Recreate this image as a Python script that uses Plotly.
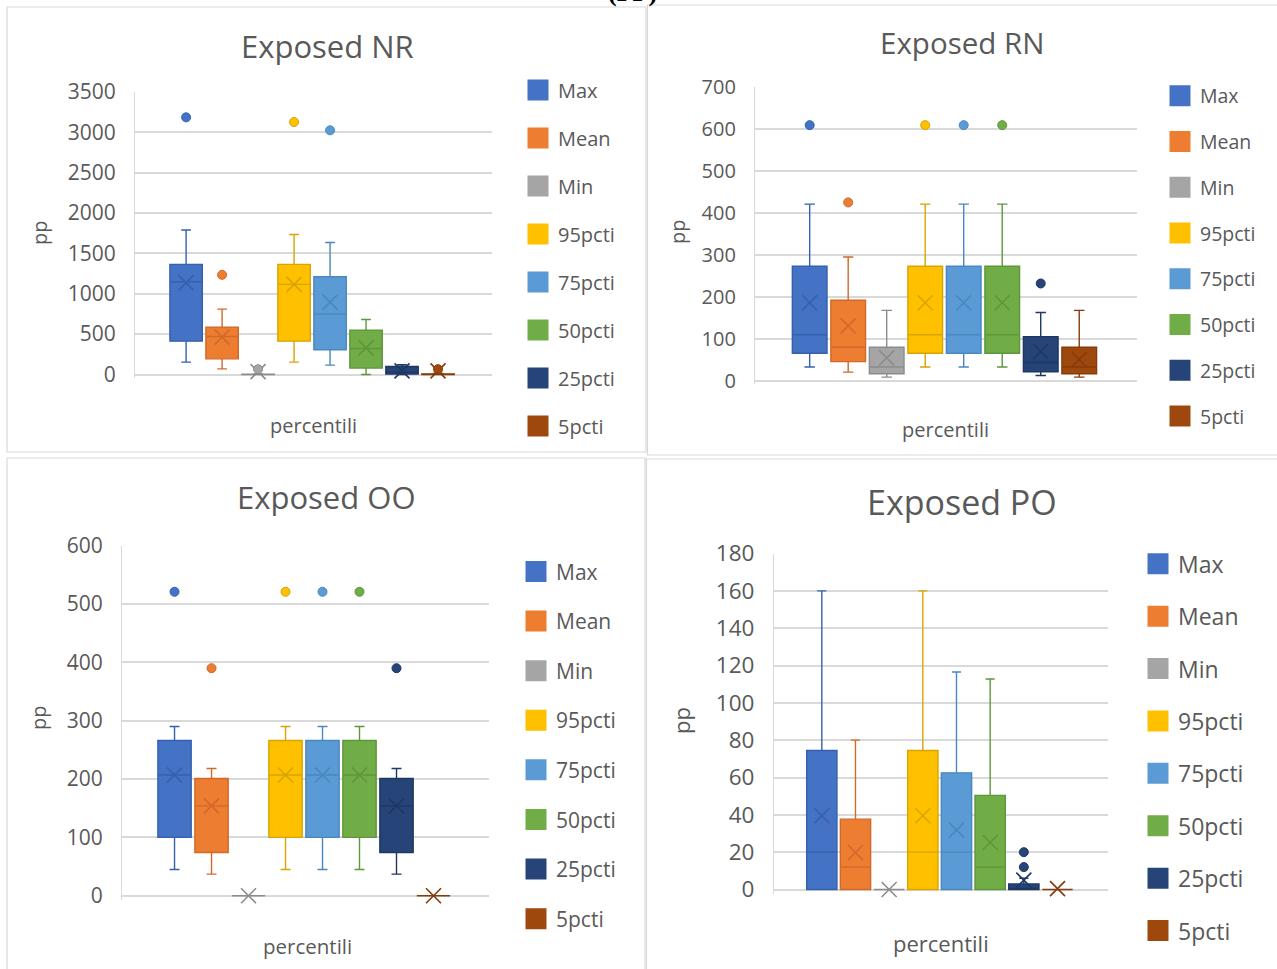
import plotly.graph_objects as go

W, H = 1277, 969

# ---------------- data ----------------
SERIES = ["Max", "Mean", "Min", "95pcti", "75pcti", "50pcti", "25pcti", "5pcti"]
PANEL_TITLES = ["Exposed NR", "Exposed RN", "Exposed OO", "Exposed PO"]
X_TITLE = "percentili"
Y_TITLE = "pp"

# Exposed NR
NR_LO = [153, 70, 0, 153, 116, 0, 0, 0]
NR_Q1 = [413, 194, 0, 413, 306, 79, 5, 0]
NR_MED = [1149, 471, 0, 1116, 748, 322, 30, 0]
NR_Q3 = [1364, 587, 5, 1364, 1211, 550, 100, 8]
NR_HI = [1790, 810, 10, 1735, 1636, 682, 120, 15]
NR_MEAN = [1136, 463, 35, 1116, 897, 330, 45, 45]
NR_OUT = [[3186], [1235], [66], [3128], [3025], [], [], [66]]

# Exposed RN
RN_LO = [32, 20, 8, 32, 32, 32, 12, 8]
RN_Q1 = [65, 45, 16, 65, 65, 65, 21, 16]
RN_MED = [109, 79, 32, 109, 109, 109, 43, 32]
RN_Q3 = [272, 191, 79, 272, 272, 272, 104, 79]
RN_HI = [420, 294, 167, 420, 420, 420, 162, 167]
RN_MEAN = [185, 130, 54, 185, 185, 185, 69, 50]
RN_OUT = [[608], [424], [], [608], [608], [608], [231], []]

# Exposed OO
OO_LO = [45, 37, 0, 45, 45, 45, 37, 0]
OO_Q1 = [100, 74, 0, 100, 100, 100, 74, 0]
OO_MED = [207, 154, 0, 207, 207, 207, 154, 0]
OO_Q3 = [266, 201, 0, 266, 266, 266, 201, 0]
OO_HI = [290, 218, 0, 290, 290, 290, 218, 0]
OO_MEAN = [207, 154, 0, 207, 207, 207, 154, 0]
OO_OUT = [[521], [390], [], [521], [521], [521], [390], []]

# Exposed PO
PO_LO = [0, 0, 0, 0, 0, 0, 0, 0]
PO_Q1 = [0, 0, 0, 0, 0, 0, 0, 0]
PO_MED = [20, 12, 0, 20, 20, 12, 0, 0]
PO_Q3 = [74.5, 37.7, 0, 74.5, 62.5, 50.4, 3, 0]
PO_HI = [160, 80, 0, 160, 116.5, 112.8, 6, 0]
PO_MEAN = [39.5, 19.8, 0, 39.5, 31.8, 25.2, 5, 0.5]
PO_OUT = [[], [], [], [], [], [], [12, 20], []]

Y_TOP = [3500, 700, 600, 180]
Y_DTICK = [500, 100, 100, 20]

# ---------------- styles ----------------
FILL = ["#4472C4", "#ED7D31", "#A5A5A5", "#FFC000", "#5B9BD5", "#70AD47", "#264478", "#9E480E"]
EDGE = ["#3560AE", "#D0692A", "#8C8C8C", "#D9A300", "#4A87C0", "#5E963A", "#1E3763", "#853B0B"]
TXT = "#595959"
GRID = "#D9D9D9"
FONT = "Open Sans"

data_sets = [
    (NR_LO, NR_Q1, NR_MED, NR_Q3, NR_HI, NR_MEAN, NR_OUT),
    (RN_LO, RN_Q1, RN_MED, RN_Q3, RN_HI, RN_MEAN, RN_OUT),
    (OO_LO, OO_Q1, OO_MED, OO_Q3, OO_HI, OO_MEAN, OO_OUT),
    (PO_LO, PO_Q1, PO_MED, PO_Q3, PO_HI, PO_MEAN, PO_OUT),
]

# panel geometry in pixels
GEOM = [
    dict(left=135, right=492, y0=374.5, ytop=92, title=(327, 46, 31), ytitle=(40, 233, 20),
         xtitle=(313, 425, 20), tick=21, leg=(528, 70.6, 20, 19),
         border=(7, 7, 646, 452)),
    dict(left=755, right=1137, y0=380.5, ytop=86.5, title=(962, 42, 29.5), ytitle=(677, 232, 20),
         xtitle=(945, 430, 20), tick=20, leg=(1170, 76.5, 19.5, 17.4),
         border=(647.5, 5, 1290, 455)),
    dict(left=122, right=489, y0=895.7, ytop=545.7, title=(326, 497, 31), ytitle=(38, 718, 20),
         xtitle=(307, 946, 20.5), tick=21, leg=(526, 551.3, 21, 19.3),
         border=(7, 458, 645, 985)),
    dict(left=774, right=1108, y0=889.5, ytop=553.5, title=(962, 502, 34), ytitle=(681, 720, 22),
         xtitle=(941, 943, 22), tick=22.5, leg=(1148, 542.3, 23, 19.5),
         border=(646.5, 459, 1290, 985)),
]

fig = go.Figure()
annotations = []
shapes = []
layout_upd = {}

for p in range(4):
    lo, q1, med, q3, hi, mean, outs = data_sets[p]
    g = GEOM[p]
    sfx = "" if p == 0 else str(p + 1)
    xa, ya = "x" + sfx, "y" + sfx
    legname = "legend" if p == 0 else "legend" + str(p + 1)

    for i, name in enumerate(SERIES):
        fig.add_trace(go.Box(
            x=[i], q1=[q1[i]], median=[med[i]], q3=[q3[i]],
            lowerfence=[lo[i]], upperfence=[hi[i]],
            width=0.9, whiskerwidth=0.3, boxpoints=False,
            fillcolor=FILL[i], line=dict(color=EDGE[i], width=1.4),
            xaxis=xa, yaxis=ya, showlegend=False, hoverinfo="skip", name=name))
        fig.add_trace(go.Scatter(
            x=[i], y=[mean[i]], mode="markers",
            marker=dict(symbol="x-thin", size=15, color=EDGE[i],
                        line=dict(color=EDGE[i], width=1.6)),
            xaxis=xa, yaxis=ya, showlegend=False, hoverinfo="skip", cliponaxis=False))
        if outs[i]:
            fig.add_trace(go.Scatter(
                x=[i] * len(outs[i]), y=outs[i], mode="markers",
                marker=dict(symbol="circle", size=9, color=FILL[i],
                            line=dict(color=EDGE[i], width=1)),
                xaxis=xa, yaxis=ya, showlegend=False, hoverinfo="skip"))
    # legend entries
    for i, name in enumerate(SERIES):
        fig.add_trace(go.Scatter(
            x=[None], y=[None], mode="markers", name=name,
            marker=dict(symbol="square", size=16, color=FILL[i],
                        line=dict(color=FILL[i], width=5)),
            xaxis=xa, yaxis=ya, legend=legname, legendgroup=f"g{p}_{i}",
            showlegend=True, hoverinfo="skip"))

    top = Y_TOP[p]
    pad_frac = 0.012
    pad_px = pad_frac * (g["y0"] - g["ytop"])
    layout_upd["xaxis" + sfx] = dict(
        domain=[g["left"] / W, g["right"] / W], range=[-1.42, 8.5],
        showticklabels=False, showgrid=False, zeroline=False, showline=False,
        ticks="", anchor=ya, fixedrange=True)
    layout_upd["yaxis" + sfx] = dict(
        domain=[1 - (g["y0"] + pad_px) / H, 1 - g["ytop"] / H],
        range=[-pad_frac * top, top], tick0=0, dtick=Y_DTICK[p],
        showgrid=True, gridcolor=GRID, gridwidth=1.5,
        zeroline=True, zerolinecolor=GRID, zerolinewidth=1.5,
        showline=True, linecolor=GRID, linewidth=1.2,
        ticks="", ticklabelstandoff=14,
        tickfont=dict(family=FONT, size=g["tick"], color=TXT),
        anchor=xa, fixedrange=True)
    lx, ly, lfs, lgap = g["leg"]
    layout_upd[legname] = dict(
        x=(lx - 10) / W, y=1 - ly / H, xanchor="left", yanchor="top",
        font=dict(family=FONT, size=lfs, color=TXT),
        tracegroupgap=lgap, traceorder="grouped",
        bgcolor="rgba(0,0,0,0)", borderwidth=0,
        itemclick=False, itemdoubleclick=False)

    tx, ty, tfs = g["title"]
    annotations.append(dict(text=PANEL_TITLES[p], x=tx / W, y=1 - ty / H, xref="paper", yref="paper",
                            showarrow=False, xanchor="center", yanchor="middle",
                            font=dict(family=FONT, size=tfs, color=TXT)))
    yx, yy, yfs = g["ytitle"]
    annotations.append(dict(text=Y_TITLE, x=yx / W, y=1 - yy / H, xref="paper", yref="paper",
                            showarrow=False, xanchor="center", yanchor="middle", textangle=-90,
                            font=dict(family=FONT, size=yfs, color=TXT)))
    xx, xy, xfs = g["xtitle"]
    annotations.append(dict(text=X_TITLE, x=xx / W, y=1 - xy / H, xref="paper", yref="paper",
                            showarrow=False, xanchor="center", yanchor="middle",
                            font=dict(family=FONT, size=xfs, color=TXT)))
    bx0, by0, bx1, by1 = g["border"]
    shapes.append(dict(type="rect", xref="paper", yref="paper",
                       x0=bx0 / W, x1=bx1 / W, y0=1 - by1 / H, y1=1 - by0 / H,
                       line=dict(color=GRID, width=1.2), fillcolor="rgba(0,0,0,0)", layer="below"))

annotations.append(dict(text="<b>(PP)</b>", x=632 / W, y=1 - 9.5 / H, xref="paper", yref="paper",
                        showarrow=False, xanchor="center", yanchor="bottom",
                        font=dict(family="Liberation Serif", size=26, color="black")))

fig.update_layout(**layout_upd)
fig.update_layout(
    width=W, height=H, margin=dict(l=0, r=0, t=0, b=0, autoexpand=False),
    paper_bgcolor="white", plot_bgcolor="white",
    annotations=annotations, shapes=shapes, showlegend=True,
)

fig.write_html("out.html", include_plotlyjs=True, config={"displayModeBar": False})
